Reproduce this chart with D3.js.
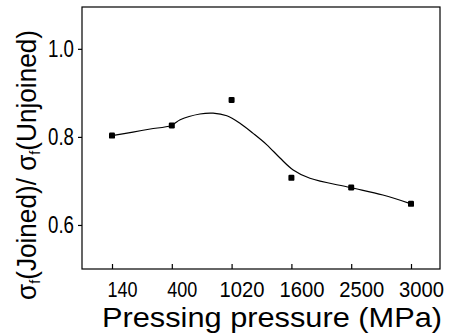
<!DOCTYPE html>
<html>
<head>
<meta charset="utf-8">
<script src="https://cdn.jsdelivr.net/npm/d3@7"></script>
<style>
  body { margin: 0; background: #fff; }
  svg { display: block; }
  text { font-family: "Liberation Sans Narrow", "Arial Narrow", "Liberation Sans", sans-serif; fill: #000; }
</style>
</head>
<body>
<svg id="chart" width="450" height="336"></svg>
<script>
// measured pressures (categorical axis, evenly spaced)
const pressures = ['140', '400', '1020', '1600', '2500', '3000'];
const ratios = [0.803, 0.826, 0.884, 0.707, 0.685, 0.648];

// fitted curve (position in category units, value)
const fitPos = [0, 0.35, 0.64, 0.99, 1.14, 1.47, 1.69, 1.92, 2.14, 2.36, 2.59, 2.81, 3.03, 3.31, 3.98, 4.53, 5.0];
const fitVal = [0.803, 0.811, 0.818, 0.826, 0.839, 0.852, 0.854, 0.848, 0.831, 0.808, 0.782, 0.752, 0.725, 0.706, 0.685, 0.668, 0.648];

const yTicks = [0.6, 0.8, 1.0];

const svg = d3.select('#chart');

const frameLeft = 82, frameRight = 440, frameTop = 7, frameBottom = 269;

const x = d3.scaleLinear().domain([0, pressures.length - 1]).range([112, 411]);
const y = d3.scaleLinear().domain([0.5, 1.095]).range([frameBottom, frameTop]);

// frame
svg.append('rect')
  .attr('x', frameLeft).attr('y', frameTop)
  .attr('width', frameRight - frameLeft).attr('height', frameBottom - frameTop)
  .attr('fill', 'none')
  .attr('stroke', '#000')
  .attr('stroke-width', 1.2);

// x ticks (inside)
const xAxis = d3.axisBottom(x)
  .tickValues(d3.range(pressures.length))
  .tickFormat(i => pressures[i])
  .tickSizeInner(-5)
  .tickSizeOuter(0)
  .tickPadding(12);

const gx = svg.append('g')
  .attr('transform', `translate(0,${frameBottom})`)
  .call(xAxis);
gx.select('.domain').remove();
gx.selectAll('line').attr('stroke', '#000').attr('stroke-width', 1.2);
gx.selectAll('text')
  .attr('font-size', 22)
  .attr('x', 10)
  .attr('textLength', i => pressures[i].length > 3 ? 45 : 30)
  .attr('lengthAdjust', 'spacingAndGlyphs');

// y ticks (outside)
const yAxis = d3.axisLeft(y)
  .tickValues(yTicks)
  .tickFormat(d3.format('.1f'))
  .tickSizeInner(4)
  .tickSizeOuter(0)
  .tickPadding(4);

const gy = svg.append('g')
  .attr('transform', `translate(${frameLeft},0)`)
  .call(yAxis);
gy.select('.domain').remove();
gy.selectAll('line').attr('stroke', '#000').attr('stroke-width', 1.2);
gy.selectAll('text')
  .attr('font-size', 24)
  .attr('textLength', 26)
  .attr('lengthAdjust', 'spacingAndGlyphs');

// fitted curve
const fit = fitPos.map((p, i) => [p, fitVal[i]]);
const line = d3.line()
  .x(d => x(d[0]))
  .y(d => y(d[1]))
  .curve(d3.curveCatmullRom.alpha(0.5));

svg.append('path')
  .datum(fit)
  .attr('d', line)
  .attr('fill', 'none')
  .attr('stroke', '#000')
  .attr('stroke-width', 1.2);

// data points
svg.selectAll('rect.pt')
  .data(ratios)
  .join('rect')
  .attr('class', 'pt')
  .attr('x', (d, i) => x(i) - 3)
  .attr('y', d => y(d) - 3)
  .attr('width', 6)
  .attr('height', 6)
  .attr('rx', 1.2)
  .attr('fill', '#000');

// x title
svg.append('text')
  .attr('x', 102)
  .attr('y', 327)
  .attr('font-size', 28)
  .attr('textLength', 340)
  .attr('lengthAdjust', 'spacingAndGlyphs')
  .text('Pressing pressure (MPa)');

// y title
const yt = svg.append('text')
  .attr('transform', 'translate(36,300) rotate(-90)')
  .attr('font-size', 27)
  .attr('textLength', 270)
  .attr('lengthAdjust', 'spacingAndGlyphs');
yt.append('tspan').text('σ');
yt.append('tspan').attr('font-size', 15).attr('dy', 4).text('f');
yt.append('tspan').attr('dy', -4).text('(Joined)/ ');
yt.append('tspan').text('σ');
yt.append('tspan').attr('font-size', 15).attr('dy', 4).text('f');
yt.append('tspan').attr('dy', -4).text('(Unjoined)');
</script>
</body>
</html>
